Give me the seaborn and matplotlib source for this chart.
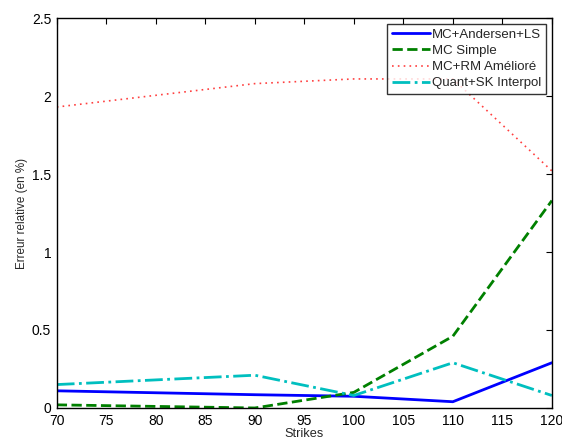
import numpy as np
import pandas as pd
import seaborn as sns
import matplotlib
matplotlib.use("Agg")
import matplotlib.pyplot as plt

# donnees
strikes = [70, 90, 100, 110, 120]
andersen_ls = [0.11, 0.085, 0.075, 0.04, 0.29]
mc_simple = [0.02, 0.0, 0.10, 0.46, 1.33]
mc_rm = [1.93, 2.08, 2.11, 2.11, 1.52]
quant_sk = [0.15, 0.21, 0.08, 0.29, 0.08]

noms = ["MC+Andersen+LS", "MC Simple", "MC+RM Amélioré", "Quant+SK Interpol"]
couleurs = ["#0000ff", "#008000", "#ff4040", "#00bfbf"]
styles = ["-", "--", (0, (1, 2.5)), "-."]
largeurs = [2.0, 2.0, 1.2, 2.0]

sns.set_style("white")
plt.rcParams['font.family'] = ['Liberation Sans', 'DejaVu Sans']
plt.rcParams['font.size'] = 9

fig = plt.figure(figsize=(5.62, 4.42), dpi=100)
ax = fig.add_axes([0.101, 0.077, 0.881, 0.882])

series = [andersen_ls, mc_simple, mc_rm, quant_sk]
for nom, vals, c, ls, lw in zip(noms, series, couleurs, styles, largeurs):
    df = pd.DataFrame({"Strikes": strikes, "val": vals})
    sns.lineplot(data=df, x="Strikes", y="val", ax=ax, color=c,
                 linestyle=ls, linewidth=lw, label=nom)

ax.set_xlim(70, 120)
ax.set_ylim(0, 2.5)
ax.set_xticks(np.arange(70, 121, 5))
ax.set_yticks([0, 0.5, 1, 1.5, 2, 2.5])
ax.set_yticklabels(["0", "0.5", "1", "1.5", "2", "2.5"])
ax.set_xlabel("Strikes", fontsize=9.2, labelpad=0)
ax.set_ylabel("Erreur relative (en %)", fontsize=8.4, labelpad=3)
ax.tick_params(direction="in", top=True, right=True, length=4, width=0.8,
               labelsize=10, colors="black")
ax.tick_params(axis="x", pad=4)
ax.tick_params(axis="y", pad=4)
for s in ax.spines.values():
    s.set_visible(True)
    s.set_color("black")
    s.set_linewidth(1.0)

leg = ax.legend(loc="upper right", bbox_to_anchor=(0.988, 0.985), fontsize=9.5,
                frameon=True, fancybox=False, handlelength=2.9, handletextpad=0.15,
                borderpad=0.35, labelspacing=0.3, borderaxespad=0)
leg.get_frame().set_edgecolor("black")
leg.get_frame().set_linewidth(1.0)

fig.savefig("out.png", dpi=100)
